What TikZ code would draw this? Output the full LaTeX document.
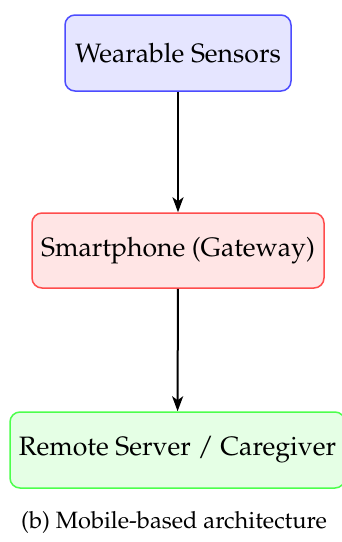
\documentclass[tikz,border=0pt]{standalone}
\usepackage[T1]{fontenc}
\usepackage{mathpazo}
\usetikzlibrary{arrows.meta}
\begin{document}
\begin{tikzpicture}[x=1pt,y=-1pt,
  box/.style={rounded corners=10pt, line width=1.5pt, align=center,
    inner sep=0pt, font=\fontsize{26.6}{30}\selectfont},
  link/.style={line width=2pt, -{Stealth[length=15pt,width=11pt,inset=4pt]}}]
  \useasboundingbox (0,0) rectangle (342,542);
  \begin{scope}
  \clip (0,0) rectangle (342,542);
  \node[box, draw=blue!70, fill=blue!10, minimum width=226pt, minimum height=76pt]
    (sensors) at (178,53) {Wearable Sensors};
  \node[box, draw=red!70, fill=red!10, minimum width=292pt, minimum height=75pt]
    (phone) at (178,250.5) {Smartphone (Gateway)};
  \node[box, draw=green!70, fill=green!10, minimum width=335pt, minimum height=76pt]
    (server) at (177.5,450) {Remote Server / Caregiver};
  \end{scope}
  \draw[link] (sensors) -- (phone);
  \draw[link] (phone) -- (server);
  \node[font=\fontsize{23.6}{28}\selectfont] (caption) at (174,522)
    {(b) Mobile-based architecture};
\end{tikzpicture}
\end{document}
